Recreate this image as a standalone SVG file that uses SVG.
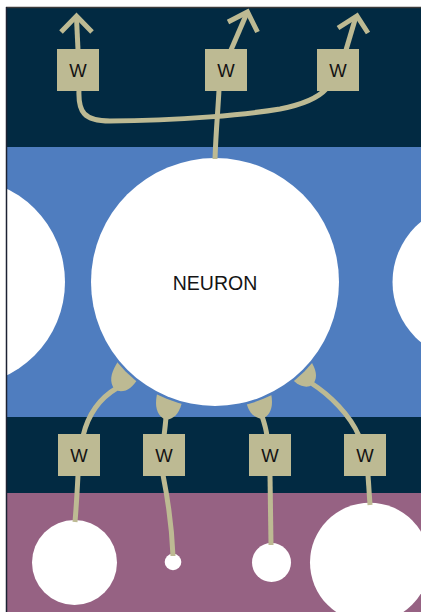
<svg xmlns="http://www.w3.org/2000/svg" xmlns:xlink="http://www.w3.org/1999/xlink" width="421" height="612" viewBox="0 0 421 612">
  <style>
    .cell { fill: #ffffff; }
    .wire { fill: none; stroke: #bdba93; stroke-width: 5; }
    .head { fill: none; stroke: #bdba93; stroke-width: 5; stroke-linejoin: miter; }
    .wbox { fill: #bdba93; }
    .wlabel { font-family: "Liberation Sans", Arial, sans-serif; font-size: 18.5px; fill: #141414; text-anchor: middle; }
    .title { font-family: "Liberation Sans", Arial, sans-serif; font-size: 19.5px; fill: #141414; text-anchor: middle; }
    .syn { fill: #bdba93; }
  </style>
  <defs>
    <!-- synapse bowl: stem junction at origin, opening toward -y -->
    <path id="cup" d="M -2.5,1 C -10,-2 -13,-10 -13,-20 L -13,-40 L 13,-40 L 13,-20 C 13,-10 10,-2 2.5,1 Z"/>
    <!-- keeps a thin gap between the synapses and the neuron body -->
    <mask id="gap" maskUnits="userSpaceOnUse" x="0" y="0" width="421" height="612">
      <rect x="0" y="0" width="421" height="612" fill="#fff"/>
      <circle cx="215" cy="282" r="126.5" fill="#000"/>
    </mask>
  </defs>

  <!-- page and layer bands -->
  <rect x="0" y="0" width="421" height="612" fill="#ffffff"/>
  <rect x="7" y="8" width="414" height="139" fill="#022a42"/>
  <rect x="7" y="147" width="414" height="270" fill="#4f7dbf"/>
  <rect x="7" y="417" width="414" height="76" fill="#022a42"/>
  <rect x="7" y="493" width="414" height="119" fill="#966283"/>

  <!-- hidden layer cells -->
  <g id="cell-left"><circle class="cell" cx="-39" cy="282" r="104"/></g>
  <g id="neuron">
    <circle class="cell" cx="215" cy="282" r="124"/>
    <text class="title" x="215" y="290">NEURON</text>
  </g>
  <g id="cell-right"><circle class="cell" cx="470.5" cy="282" r="78"/></g>

  <!-- input cells -->
  <g id="input-a"><circle class="cell" cx="74.5" cy="562.5" r="42.5"/></g>
  <g id="input-b"><circle class="cell" cx="173" cy="562" r="8.3"/></g>
  <g id="input-c"><circle class="cell" cx="271.5" cy="562.5" r="19.5"/></g>
  <g id="input-d"><circle class="cell" cx="369.8" cy="562.5" r="59.8"/></g>

  <!-- connectors -->
  <g id="connectors">
    <!-- outputs -->
    <path class="wire" d="M 78,50 L 76.5,18"/>
    <polyline class="head" points="61,32 76.5,16 92,32"/>
    <path class="wire" d="M 231,50 L 246.5,14"/>
    <polyline class="head" points="228,22 247.5,12 257.5,32"/>
    <path class="wire" d="M 346,50 L 355.5,18"/>
    <polyline class="head" points="338,28 357,16 368,33"/>
    <path class="wire" d="M 79,90 C 78,112 84,121 110,121 C 180,121 250,114 280,109 C 300,105 318,98 326,89"/>
    <path class="wire" d="M 215,159 C 216,130 218,110 219,90"/>

    <!-- inputs into the neuron -->
    <path class="wire" d="M 83,436 C 88,415 100,398 117,388"/>
    <path class="wire" d="M 164,436 C 165,428 165.5,424 166,417"/>
    <path class="wire" d="M 267,436 C 266,428 264,422 262,416"/>
    <path class="wire" d="M 359,436 C 350,415 330,395 311,383"/>
    <g mask="url(#gap)">
      <use class="syn" xlink:href="#cup" transform="translate(117,389) rotate(30)"/>
      <use class="syn" xlink:href="#cup" transform="translate(166,418) rotate(10)"/>
      <use class="syn" xlink:href="#cup" transform="translate(262,417) rotate(-10)"/>
      <use class="syn" xlink:href="#cup" transform="translate(311,384) rotate(-35)"/>
    </g>

    <!-- inputs from the cells below -->
    <path class="wire" d="M 78,475 C 77,495 76,510 75,522"/>
    <path class="wire" d="M 163,475 C 168,500 172,530 173,556"/>
    <path class="wire" d="M 270,475 L 271,545"/>
    <path class="wire" d="M 368,475 L 370,505"/>
  </g>

  <!-- weights -->
  <g id="w-out-1"><rect class="wbox" x="57" y="49" width="42" height="42"/><text class="wlabel" x="78" y="77">W</text></g>
  <g id="w-out-2"><rect class="wbox" x="205" y="49" width="42" height="42"/><text class="wlabel" x="226" y="77">W</text></g>
  <g id="w-out-3"><rect class="wbox" x="317" y="49" width="42" height="42"/><text class="wlabel" x="338" y="77">W</text></g>
  <g id="w-in-1"><rect class="wbox" x="58" y="434" width="42" height="42"/><text class="wlabel" x="79" y="462">W</text></g>
  <g id="w-in-2"><rect class="wbox" x="143" y="434" width="42" height="42"/><text class="wlabel" x="164" y="462">W</text></g>
  <g id="w-in-3"><rect class="wbox" x="249" y="434" width="42" height="42"/><text class="wlabel" x="270" y="462">W</text></g>
  <g id="w-in-4"><rect class="wbox" x="344" y="434" width="42" height="42"/><text class="wlabel" x="365" y="462">W</text></g>

  <!-- frame edges -->
  <line x1="6" y1="7.5" x2="421" y2="7.5" stroke="#3a3a3a" stroke-width="1.5"/>
  <line x1="6.5" y1="7" x2="6.5" y2="612" stroke="#1c2233" stroke-width="1.5"/>
</svg>
